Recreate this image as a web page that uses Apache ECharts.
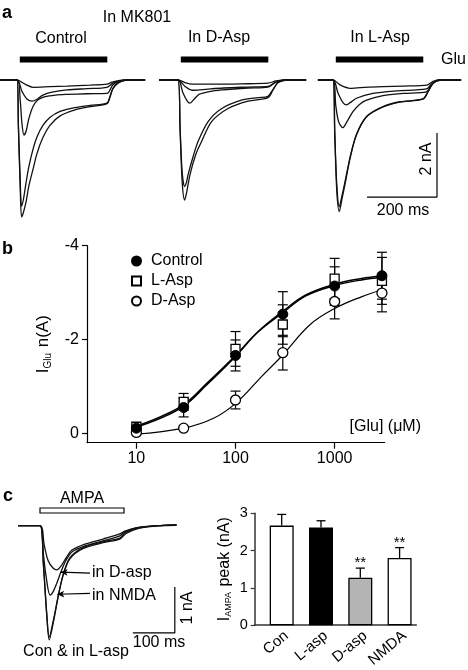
<!DOCTYPE html>
<html><head><meta charset="utf-8">
<script src="https://cdn.jsdelivr.net/npm/echarts@6/dist/echarts.min.js"></script>
<style>html,body{margin:0;padding:0;background:#fff}#c{width:468px;height:670px}</style>
</head><body><div id="c"></div>
<script>
// ================= DATA =================
// Panel a: current traces [time from onset (ms), current (nA)]
const ctrl1 = [[-49,0],[0,0],[23,-0.13],[46,-0.23],[94,-0.21],[143,-0.19],[209,-0.16],[257,-0.13],[271,-0.07],[294,-0.01],[366,0]];
const ctrl2 = [[-49,0],[0,0],[14,-0.35],[29,-0.6],[43,-0.66],[57,-0.6],[74,-0.47],[100,-0.38],[143,-0.31],[200,-0.27],[257,-0.23],[274,-0.1],[294,-0.03],[314,0],[366,0]];
const ctrl3 = [[-49,0],[0,0],[9,-0.62],[14,-1.35],[20,-1.72],[26,-1.6],[34,-1.2],[46,-0.82],[60,-0.62],[80,-0.52],[110,-0.47],[143,-0.45],[200,-0.43],[257,-0.42],[274,-0.15],[294,-0.03],[314,0],[366,0]];
const ctrl4 = [[-49,0],[0,0],[4,-1.4],[9,-3.1],[13,-3.94],[18,-3.75],[26,-3.2],[34,-2.7],[46,-2.15],[57,-1.78],[74,-1.42],[94,-1.17],[123,-0.98],[166,-0.86],[209,-0.79],[257,-0.72],[266,-0.5],[274,-0.26],[289,-0.09],[309,-0.01],[366,0]];
const ctrl5 = [[-49,0],[0,0],[4,-1.5],[9,-3.3],[13,-4.28],[18,-4.15],[26,-3.8],[34,-3.3],[46,-2.78],[57,-2.3],[74,-1.8],[94,-1.42],[123,-1.12],[166,-0.93],[209,-0.83],[257,-0.74],[266,-0.52],[274,-0.27],[289,-0.09],[309,-0.01],[366,0]];

const dasp1 = [[-54,0],[0,0],[20,-0.08],[40,-0.13],[100,-0.13],[180,-0.12],[257,-0.1],[280,-0.03],[310,0],[366,0]];
const dasp2 = [[-54,0],[0,0],[20,-0.2],[40,-0.32],[70,-0.3],[130,-0.25],[200,-0.22],[257,-0.2],[280,-0.06],[310,0],[366,0]];
const dasp3 = [[-54,0],[0,0],[14,-0.4],[26,-0.65],[34,-0.72],[46,-0.6],[60,-0.45],[90,-0.36],[126,-0.31],[200,-0.25],[257,-0.22],[280,-0.07],[310,0],[366,0]];
const dasp4 = [[-54,0],[0,0],[6,-1.5],[12,-2.9],[19,-3.33],[24,-3.2],[29,-2.95],[43,-2.4],[57,-1.93],[86,-1.3],[124,-0.9],[181,-0.63],[230,-0.55],[257,-0.51],[271,-0.3],[286,-0.08],[314,0],[366,0]];
const dasp5 = [[-54,0],[0,0],[6,-1.6],[12,-3.2],[19,-3.75],[24,-3.55],[34,-2.97],[50,-2.35],[67,-1.93],[96,-1.3],[143,-0.89],[200,-0.66],[257,-0.55],[271,-0.32],[286,-0.08],[314,0],[366,0]];

const lasp1 = [[-43,0],[0,0],[20,-0.15],[49,-0.26],[100,-0.22],[143,-0.21],[200,-0.19],[269,-0.16],[286,-0.04],[310,0],[366,0]];
const lasp2 = [[-43,0],[0,0],[14,-0.4],[28,-0.7],[39,-0.78],[50,-0.7],[67,-0.57],[114,-0.42],[180,-0.34],[267,-0.28],[280,-0.14],[295,-0.03],[320,0],[366,0]];
const lasp3 = [[-43,0],[0,0],[8,-0.8],[16,-1.3],[28,-1.49],[40,-1.3],[57,-0.99],[75,-0.77],[96,-0.63],[143,-0.49],[200,-0.42],[267,-0.37],[280,-0.16],[295,-0.03],[320,0],[366,0]];
const lasp4 = [[-43,0],[0,0],[5,-1.6],[11,-3.3],[18,-3.96],[26,-3.6],[34,-3.2],[49,-2.4],[67,-1.7],[96,-1.14],[143,-0.83],[191,-0.68],[257,-0.59],[271,-0.37],[286,-0.1],[306,0],[366,0]];
const lasp5 = [[-43,0],[0,0],[5,-1.7],[11,-3.5],[18,-4.11],[26,-3.7],[34,-3.28],[49,-2.44],[67,-1.72],[96,-1.15],[143,-0.84],[191,-0.69],[257,-0.6],[271,-0.38],[286,-0.1],[306,0],[366,0]];

const groupLabelsA = ['Control', 'In D-Asp', 'In L-Asp'];
const gluPulse = [8, 258];           // ms, Glu application
const scaleBarA = {ms: 200, nA: 2};

// Panel b: concentration-response
const conc = [10, 30, 100, 300, 1000, 3000];
const ctrlMean = [-0.11, -0.55, -1.66, -2.54, -3.14, -3.36];
const ctrlSE   = [0.05, 0.2, 0.33, 0.48, 0.41, 0.5];
const laspMean = [-0.14, -0.67, -1.80, -2.32, -3.30, -3.25];
const laspSE   = [0.04, 0.18, 0.37, 0.42, 0.43, 0.5];
const daspMean = [-0.02, -0.11, -0.71, -1.72, -2.81, -2.99];
const daspSE   = [0.03, 0.03, 0.19, 0.37, 0.37, 0.4];
const ctrlFit = [[9.3,-0.11],[17.4,-0.32],[30,-0.58],[51,-1.03],[100,-1.64],[170,-2.17],[300,-2.6],[512,-2.95],[1000,-3.18],[1860,-3.3],[3000,-3.36]];
const laspFit = [[9.3,-0.13],[17.4,-0.35],[30,-0.61],[51,-1.06],[100,-1.66],[170,-2.17],[300,-2.57],[512,-2.93],[1000,-3.15],[1860,-3.27],[3000,-3.32]];
const daspFit = [[9.7,0.02],[30,-0.11],[60,-0.32],[103,-0.66],[183,-1.21],[300,-1.67],[560,-2.31],[1000,-2.66],[1860,-2.91],[3000,-3.06]];
const yTicksB = [-4, -2, 0];
const xTicksB = [10, 100, 1000];

// Panel c left: AMPA traces [ms from onset, nA]
const ampaCon  = [[-52,0],[0,0],[8,-0.85],[16,-1.94],[22,-2.48],[32,-2.09],[44,-1.51],[55,-1.07],[71,-0.7],[102,-0.48],[150,-0.35],[190,-0.27],[202,-0.16],[230,-0.05],[278,0],[325,0.02]];
const ampaLasp = [[-52,0],[0,0],[8,-0.8],[16,-1.9],[22,-2.42],[32,-2.05],[44,-1.5],[55,-1.08],[71,-0.72],[102,-0.5],[150,-0.37],[190,-0.29],[205,-0.17],[235,-0.06],[285,0],[325,0.01]];
const ampaNmda = [[-52,0],[0,0],[7,-0.53],[14,-1.07],[24,-1.51],[31,-1.44],[40,-1.25],[50,-1.0],[62,-0.75],[76,-0.57],[107,-0.44],[150,-0.33],[190,-0.22],[202,-0.14],[231,-0.05],[279,0],[325,0.02]];
const ampaDasp = [[-52,0],[0,0],[10,-0.42],[19,-0.75],[31,-0.92],[40,-0.96],[50,-0.88],[62,-0.7],[76,-0.53],[107,-0.4],[150,-0.29],[190,-0.18],[202,-0.12],[231,-0.04],[279,0],[325,0.02]];
const ampaPulse = [0, 200];
const scaleBarC = {ms: 100, nA: 1};

// Panel c right: peak AMPA currents
const barCats = ['Con', 'L-asp', 'D-asp', 'NMDA'];
const barVals = [2.67, 2.62, 1.27, 1.80];
const barErr  = [0.30, 0.18, 0.26, 0.28];
const barSig  = ['', '', '**', '**'];
const barColors = ['#ffffff', '#000000', '#b4b4b4', '#ffffff'];

// ================= LAYOUT =================
const FONT = "'Liberation Sans', Arial, Helvetica, sans-serif";
const onsetA = [48.6, 508.6, 951.4];   // ms positions of each group within panel a axis
const scaleCornerA = [1248.6, -3.66];
const scaleCornerC = [321, -2.33];

const chart = echarts.init(document.getElementById('c'), null, {renderer: 'canvas'});

const series = [];
const tracesA = [[ctrl1, ctrl2, ctrl3, ctrl4, ctrl5], [dasp1, dasp2, dasp3, dasp4, dasp5], [lasp1, lasp2, lasp3, lasp4, lasp5]];
tracesA.forEach((grp, gi) => {
  grp.forEach((tr, ti) => {
    series.push({
      type: 'line', xAxisIndex: 0, yAxisIndex: 0, name: 'a' + gi + ti,
      data: tr.map(p => [p[0] + onsetA[gi], p[1]]),
      showSymbol: false, symbol: 'none', smooth: 0.3, silent: true,
      lineStyle: {color: '#111', width: 1.3}, z: 2
    });
  });
  series.push({
    type: 'line', xAxisIndex: 0, yAxisIndex: 0, name: 'glu' + gi,
    data: gluPulse.map(t => [t + onsetA[gi], 0.64]),
    showSymbol: false, symbol: 'none', silent: true,
    lineStyle: {color: '#000', width: 6, cap: 'butt'}
  });
});
series.push({
  type: 'line', xAxisIndex: 0, yAxisIndex: 0, name: 'scaleA',
  data: [[scaleCornerA[0] - scaleBarA.ms, scaleCornerA[1]], scaleCornerA, [scaleCornerA[0], scaleCornerA[1] + scaleBarA.nA]],
  showSymbol: false, symbol: 'none', silent: true,
  lineStyle: {color: '#000', width: 1.2}
});

// Panel b
const lg = v => Math.log10(v);
function errRender(params, api) {
  const x = api.value(0), lo = api.value(1), hi = api.value(2);
  const p1 = api.coord([x, lo]), p2 = api.coord([x, hi]);
  const w = 5, st = {stroke: '#000', lineWidth: 1.2};
  return {type: 'group', children: [
    {type: 'line', shape: {x1: p1[0], y1: p1[1], x2: p2[0], y2: p2[1]}, style: st},
    {type: 'line', shape: {x1: p1[0] - w, y1: p1[1], x2: p1[0] + w, y2: p1[1]}, style: st},
    {type: 'line', shape: {x1: p2[0] - w, y1: p2[1], x2: p2[0] + w, y2: p2[1]}, style: st}
  ]};
}
[[ctrlMean, ctrlSE], [laspMean, laspSE], [daspMean, daspSE]].forEach((d, i) => {
  series.push({
    type: 'custom', xAxisIndex: 1, yAxisIndex: 1, name: 'err' + i, silent: true, z: 2,
    renderItem: errRender, encode: {x: 0, y: [1, 2]},
    data: conc.map((c, k) => [lg(c), d[0][k] - d[1][k], d[0][k] + d[1][k]])
  });
});
[[ctrlFit, 1.5], [laspFit, 1.5], [daspFit, 1.2]].forEach((f, i) => {
  series.push({
    type: 'line', xAxisIndex: 1, yAxisIndex: 1, name: 'fit' + i, silent: true, z: 3,
    data: f[0].map(p => [lg(p[0]), p[1]]), smooth: 0.4, showSymbol: false, symbol: 'none',
    lineStyle: {color: '#000', width: f[1]}
  });
});
series.push({
  type: 'scatter', xAxisIndex: 1, yAxisIndex: 1, name: 'L-Asp', symbol: 'rect', symbolSize: 9, z: 5,
  itemStyle: {color: '#fff', borderColor: '#000', borderWidth: 1.3, opacity: 1},
  data: conc.map((c, k) => [lg(c), laspMean[k]])
});
series.push({
  type: 'scatter', xAxisIndex: 1, yAxisIndex: 1, name: 'D-Asp', symbol: 'circle', symbolSize: 10, z: 5,
  itemStyle: {color: '#fff', borderColor: '#000', borderWidth: 1.3, opacity: 1},
  data: conc.map((c, k) => [lg(c), daspMean[k]])
});
series.push({
  type: 'scatter', xAxisIndex: 1, yAxisIndex: 1, name: 'Control', symbol: 'circle', symbolSize: 10, z: 6,
  itemStyle: {color: '#000', borderColor: '#000', borderWidth: 1, opacity: 1},
  data: conc.map((c, k) => [lg(c), ctrlMean[k]])
});

// Panel c left
[ampaCon, ampaLasp, ampaNmda, ampaDasp].forEach((tr, i) => {
  const s = {
    type: 'line', xAxisIndex: 2, yAxisIndex: 2, name: 'c' + i, data: tr,
    showSymbol: false, symbol: 'none', smooth: 0.3, silent: true,
    lineStyle: {color: '#111', width: 1.3}
  };
  if (i === 3) {
    s.markLine = {
      silent: true, symbol: ['none', 'arrow'], symbolSize: [5, 7],
      lineStyle: {color: '#000', width: 1.2, type: 'solid'}, label: {show: false},
      data: [
        [{coord: [119, -1.03]}, {coord: [49, -1.01]}],
        [{coord: [119, -1.47]}, {coord: [41, -1.49]}]
      ]
    };
  }
  series.push(s);
});
series.push({
  type: 'custom', xAxisIndex: 2, yAxisIndex: 2, name: 'ampaBar', silent: true,
  renderItem: (params, api) => {
    const a = api.coord([api.value(0), 0.385]), b = api.coord([api.value(1), 0.276]);
    return {type: 'rect', shape: {x: a[0], y: a[1], width: b[0] - a[0], height: b[1] - a[1]},
      style: {fill: '#fff', stroke: '#000', lineWidth: 1.2}};
  },
  data: [[ampaPulse[0], ampaPulse[1]]]
});
series.push({
  type: 'line', xAxisIndex: 2, yAxisIndex: 2, name: 'scaleC',
  data: [[scaleCornerC[0] - scaleBarC.ms, scaleCornerC[1]], scaleCornerC, [scaleCornerC[0], scaleCornerC[1] + scaleBarC.nA]],
  showSymbol: false, symbol: 'none', silent: true,
  lineStyle: {color: '#000', width: 1.2}
});

// Panel c right
series.push({
  type: 'bar', xAxisIndex: 3, yAxisIndex: 3, name: 'peak', barWidth: 24, silent: true, z: 2,
  data: barVals.map((v, i) => ({value: [i, v], itemStyle: {color: barColors[i], borderColor: '#000', borderWidth: 1.3}}))
});
series.push({
  type: 'custom', xAxisIndex: 3, yAxisIndex: 3, name: 'barErr', silent: true, z: 3,
  renderItem: (params, api) => {
    const i = api.value(0), v = api.value(1), e = api.value(2);
    const p1 = api.coord([i, v]), p2 = api.coord([i, v + e]);
    const st = {stroke: '#000', lineWidth: 1.3};
    const ch = [
      {type: 'line', shape: {x1: p1[0], y1: p1[1], x2: p2[0], y2: p2[1]}, style: st},
      {type: 'line', shape: {x1: p2[0] - 4.5, y1: p2[1], x2: p2[0] + 4.5, y2: p2[1]}, style: st}
    ];
    const sig = barSig[params.dataIndex];
    if (sig) ch.push({type: 'text', x: p2[0], y: p2[1] - 5,
      style: {text: sig, fill: '#000', font: '15px ' + FONT, align: 'center', verticalAlign: 'middle'}});
    return {type: 'group', children: ch};
  },
  encode: {x: 0, y: 1},
  data: barVals.map((v, i) => [i, v, barErr[i]])
});

const noAxis = {show: false};
const T = (text, x, y, opt = {}) => ({
  type: 'text', x, y, rotation: opt.rot || 0, silent: true,
  style: {text, fill: '#000', font: (opt.bold ? 'bold ' : '') + (opt.size || 16) + 'px ' + FONT,
    align: opt.align || 'center', verticalAlign: 'middle'}
});

const option = {
  animation: false,
  backgroundColor: '#fff',
  textStyle: {fontFamily: FONT},
  grid: [
    {left: 0, top: 40, width: 468, height: 200},
    {left: 87, top: 245.7, width: 297.7, height: 197},
    {left: 6.4, top: 502.7, width: 176.4, height: 161},
    {left: 254.7, top: 513.3, width: 161.6, height: 114}
  ],
  xAxis: [
    {gridIndex: 0, type: 'value', min: 0, max: 468 / 0.35, ...noAxis},
    {gridIndex: 1, type: 'value', min: 0.502, max: 3.505,
      axisLine: {show: true, onZero: false, lineStyle: {color: '#000', width: 1.2}},
      axisTick: {show: true, length: 6, customValues: xTicksB.map(lg), lineStyle: {color: '#000', width: 1.2}},
      axisLabel: {customValues: xTicksB.map(lg), formatter: v => String(Math.round(Math.pow(10, v))), fontSize: 16, color: '#000', fontFamily: FONT, margin: 8},
      splitLine: {show: false}},
    {gridIndex: 2, type: 'value', min: -80, max: 340, ...noAxis},
    {gridIndex: 3, type: 'value', min: -0.687, max: 3.425,
      axisLine: {show: true, onZero: false, lineStyle: {color: '#333', width: 1.5}},
      axisTick: {show: false},
      axisLabel: {customValues: [0, 1, 2, 3], formatter: v => barCats[Math.round(v)], rotate: 40, align: 'right', verticalAlign: 'top', fontSize: 15, color: '#000', fontFamily: FONT, margin: 3},
      splitLine: {show: false}}
  ],
  yAxis: [
    {gridIndex: 0, type: 'value', min: -5, max: 1.25, ...noAxis},
    {gridIndex: 1, type: 'value', inverse: true, min: -4, max: 0.2,
      axisLine: {show: true, onZero: false, lineStyle: {color: '#000', width: 1.2}},
      axisTick: {show: true, length: 5, customValues: yTicksB, lineStyle: {color: '#000', width: 1.2}},
      axisLabel: {customValues: yTicksB, fontSize: 16, color: '#000', fontFamily: FONT, margin: 8},
      splitLine: {show: false},
      name: '{i|I}{s|Glu}{i| n(A)}', nameLocation: 'middle', nameGap: 34, nameRotate: 90,
      nameTextStyle: {color: '#000', rich: {i: {fontSize: 17, fontFamily: FONT, color: '#000'}, s: {fontSize: 10, fontFamily: FONT, color: '#000', padding: [9, 1, 0, 0]}}}},
    {gridIndex: 2, type: 'value', min: -3, max: 0.5, ...noAxis},
    {gridIndex: 3, type: 'value', min: 0, max: 3, interval: 1,
      axisLine: {show: true, onZero: false, lineStyle: {color: '#333', width: 1.5}},
      axisTick: {show: true, length: 4, lineStyle: {color: '#333', width: 1.2}},
      axisLabel: {fontSize: 14.5, color: '#000', fontFamily: FONT, margin: 7},
      splitLine: {show: false},
      name: '{i|I}{s|AMPA}{i| peak (nA)}', nameLocation: 'middle', nameGap: 22, nameRotate: 90,
      nameTextStyle: {color: '#000', rich: {i: {fontSize: 16, fontFamily: FONT, color: '#000'}, s: {fontSize: 9, fontFamily: FONT, color: '#000', padding: [8, 1, 0, 0]}}}}
  ],
  legend: {
    data: ['Control', 'L-Asp', 'D-Asp'], orient: 'vertical', left: 126, top: 248,
    itemWidth: 9, itemHeight: 9, itemGap: 4, selectedMode: false,
    textStyle: {fontSize: 16, fontFamily: FONT, color: '#000', padding: [0, 0, 0, 5]}
  },
  graphic: [
    T('a', 2, 13, {bold: true, size: 18, align: 'left'}),
    T('In MK801', 137, 17.5),
    T(groupLabelsA[0], 61, 38.5),
    T(groupLabelsA[1], 219, 38),
    T(groupLabelsA[2], 380, 37.5),
    T('Glu', 441, 60, {align: 'left'}),
    T(scaleBarA.nA + ' nA', 427, 159, {rot: Math.PI / 2}),
    T(scaleBarA.ms + ' ms', 403, 211),
    T('b', 2, 249, {bold: true, size: 18, align: 'left'}),
    T('[Glu] (\u03bcM)', 421, 427, {align: 'right'}),
    T('c', 3, 496, {bold: true, size: 18, align: 'left'}),
    T('AMPA', 82, 499),
    T('in D-asp', 92, 573, {align: 'left'}),
    T('in NMDA', 92, 596, {align: 'left'}),
    T('Con & in L-asp', 76, 652),
    T(scaleBarC.nA + ' nA', 188, 608, {rot: Math.PI / 2}),
    T(scaleBarC.ms + ' ms', 159, 642.5)
  ],
  series
};
chart.setOption(option);
</script>
</body></html>
